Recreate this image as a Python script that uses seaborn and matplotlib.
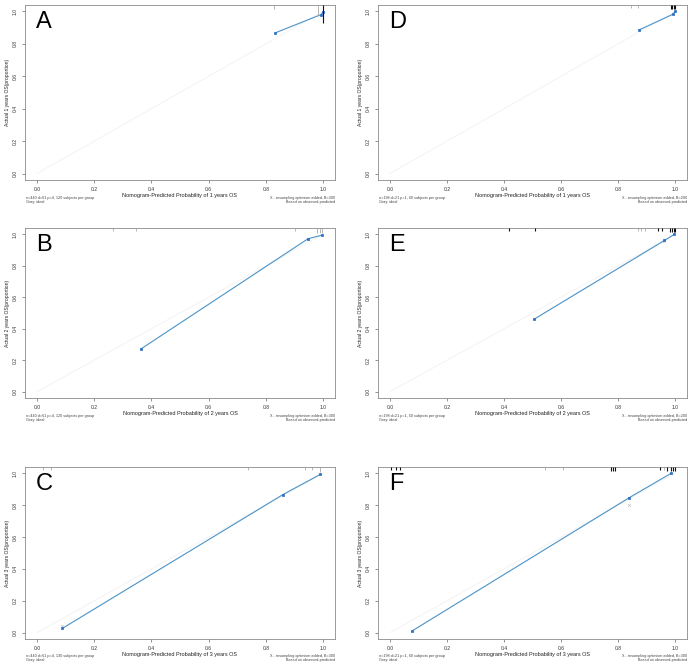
import numpy as np
import pandas as pd
import matplotlib
matplotlib.use("Agg")
import matplotlib.pyplot as plt
import matplotlib.transforms as mtransforms
import seaborn as sns

sns.set_theme(style="white")
plt.rcParams['font.family'] = ['Liberation Sans', 'DejaVu Sans']

# ---------------- data ----------------
letters = ["A", "B", "C", "D", "E", "F"]
years = [1, 2, 3, 1, 2, 3]

pred_A = [0.833, 0.992, 1.000]
obs_A = [0.868, 0.980, 0.994]
pred_B = [0.362, 0.948, 0.998]
obs_B = [0.270, 0.972, 0.995]
pred_C = [0.089, 0.860, 0.991]
obs_C = [0.027, 0.867, 0.994]
pred_D = [0.875, 0.993, 1.000]
obs_D = [0.887, 0.983, 1.000]
pred_E = [0.505, 0.963, 0.998]
obs_E = [0.460, 0.961, 1.000]
pred_F = [0.077, 0.840, 0.986]
obs_F = [0.010, 0.848, 1.000]

# bias-corrected (X) estimates
corr_pred = {"C": [0.089], "E": [0.963], "F": [0.840]}
corr_obs = {"C": [0.040], "E": [0.955], "F": [0.800]}

# rug of predicted values at top: position, relative height, dark?
rug_A = [0.830, 0.983, 0.999]
rugh_A = [0.02, 0.06, 0.10]
rugd_A = [0, 0, 1]
rug_B = [0.267, 0.346, 0.903, 0.980, 0.988, 0.995]
rugh_B = [0.02, 0.02, 0.02, 0.03, 0.03, 0.03]
rugd_B = [0, 0, 0, 0, 0, 0]
rug_C = [0.020, 0.050, 0.738, 0.936, 0.961, 0.990]
rugh_C = [0.02, 0.02, 0.02, 0.02, 0.02, 0.03]
rugd_C = [0, 0, 0, 0, 0, 0]
rug_D = [0.846, 0.869, 0.985, 0.990, 0.995, 1.000]
rugh_D = [0.015, 0.015, 0.025, 0.025, 0.025, 0.025]
rugd_D = [0, 0, 1, 1, 1, 1]
rug_E = [0.419, 0.510, 0.870, 0.882, 0.895, 0.942, 0.953, 0.983, 0.990, 0.995, 1.000]
rugh_E = [0.02, 0.02, 0.015, 0.015, 0.015, 0.02, 0.02, 0.025, 0.025, 0.025, 0.025]
rugd_E = [1, 1, 0, 0, 0, 1, 1, 1, 1, 1, 1]
rug_F = [0.005, 0.020, 0.036, 0.545, 0.607, 0.776, 0.782, 0.789, 0.948, 0.960, 0.972, 0.985, 0.993, 1.000]
rugh_F = [0.02, 0.02, 0.02, 0.015, 0.015, 0.025, 0.025, 0.025, 0.02, 0.02, 0.025, 0.025, 0.025, 0.025]
rugd_F = [1, 1, 1, 0, 0, 1, 1, 1, 1, 0, 1, 1, 1, 1]

foot_left = [
    "n=440 d=61 p=4, 120 subjects per group",
    "n=440 d=61 p=4, 120 subjects per group",
    "n=440 d=61 p=4, 130 subjects per group",
    "n=198 d=21 p=1, 60 subjects per group",
    "n=198 d=21 p=1, 50 subjects per group",
    "n=198 d=21 p=1, 60 subjects per group",
]
foot_right = [
    "X - resampling optimism added, B=300",
    "X - resampling optimism added, B=300",
    "X - resampling optimism added, B=300",
    "X - resampling optimism added, B=200",
    "X - resampling optimism added, B=200",
    "X - resampling optimism added, B=300",
]
xticks = [0.0, 0.2, 0.4, 0.6, 0.8, 1.0]
xtick_labels = ["0.0", "0.2", "0.4", "0.6", "0.8", "1.0"]

preds = [pred_A, pred_B, pred_C, pred_D, pred_E, pred_F]
obss = [obs_A, obs_B, obs_C, obs_D, obs_E, obs_F]
rugs = [rug_A, rug_B, rug_C, rug_D, rug_E, rug_F]
rughs = [rugh_A, rugh_B, rugh_C, rugh_D, rugh_E, rugh_F]
rugds = [rugd_A, rugd_B, rugd_C, rugd_D, rugd_E, rugd_F]

# ---------------- layout (pixels) ----------------
W, H = 692, 671
fig = plt.figure(figsize=(W / 100, H / 100), dpi=100)
cols = [(25, 335), (378, 687)]
rows = [(5, 180), (228, 398), (467, 639)]

blue_line = "#4a93c6"
blue_pt = "#2c6cc4"

for i, L in enumerate(letters):
    c = i // 3
    r = i % 3
    x0, x1 = cols[c]
    y0, y1 = rows[r]
    ax = fig.add_axes([x0 / W, 1 - y1 / H, (x1 - x0) / W, (y1 - y0) / H])
    ax.set_xlim(-0.042, 1.042)
    ax.set_ylim(-0.04, 1.04)

    # ideal line
    ax.plot([0, 1], [0, 1], color="#f3f3f3", lw=0.7, zorder=1)

    df = pd.DataFrame({"pred": preds[i], "obs": obss[i]})
    sns.lineplot(data=df, x="pred", y="obs", ax=ax, color=blue_line, lw=0.8,
                 marker="s", markersize=1.5, markerfacecolor=blue_pt,
                 markeredgecolor=blue_pt, markeredgewidth=0.5,
                 sort=False, zorder=3)
    if L in corr_pred:
        ax.scatter(corr_pred[L], corr_obs[L], marker="x", s=4, lw=0.4,
                   color="#b8b8b8", zorder=2)

    # rug at top
    trans = mtransforms.blended_transform_factory(ax.transData, ax.transAxes)
    for xv, hv, dv in zip(rugs[i], rughs[i], rugds[i]):
        ax.vlines(xv, 1 - hv, 1, transform=trans,
                  color="#111111" if dv else "#9a9a9a", lw=0.8 if dv else 0.5,
                  zorder=4)

    # frame and ticks
    for sp in ax.spines.values():
        sp.set_color("#8a8a8a")
        sp.set_linewidth(0.6)
    ax.set_xticks(xticks)
    ax.set_xticklabels(xtick_labels)
    ax.set_yticks(xticks)
    ax.set_yticklabels(xtick_labels, rotation=90, va="center")
    ax.tick_params(axis="both", direction="out", length=2.5, width=0.5,
                   color="#666666", labelsize=3.6, labelcolor="#333333", pad=2.5,
                   bottom=True, left=True)
    ax.set_xlabel(f"Nomogram-Predicted Probability of {years[i]} years OS",
                  fontsize=4.0, color="#222222", labelpad=0.5)
    ax.set_ylabel(f"Actual {years[i]} years OS(proportion)",
                  fontsize=3.6, color="#222222", labelpad=2)

    # panel letter
    ax.text(0.035, 0.9, L, transform=ax.transAxes, fontsize=17,
            ha="left", va="center", color="black")

    # footnotes
    fy = (y1 + 19.5) / H
    fig.text(x0 / W + 0.002, 1 - fy, foot_left[i] + "\nGray: ideal",
             fontsize=2.7, ha="left", va="center", color="#444444",
             linespacing=1.0)
    fig.text(x1 / W, 1 - fy, foot_right[i] + "\nBased on observed-predicted",
             fontsize=2.7, ha="right", va="center", color="#444444",
             linespacing=1.0, multialignment="right")

fig.savefig("out.png", dpi=100)
